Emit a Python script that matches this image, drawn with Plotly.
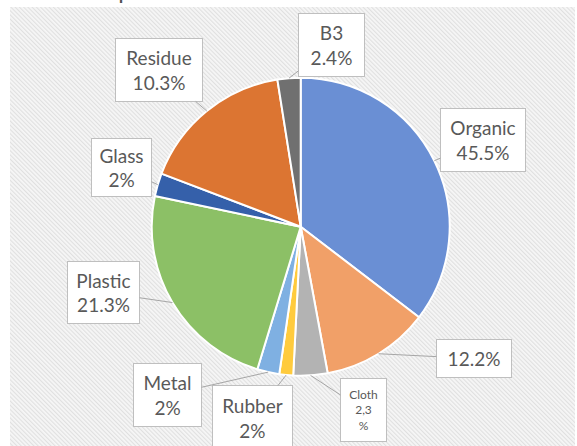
import base64
import numpy as np
import plotly.graph_objects as go

# slices clockwise from 12 o'clock
names   = ["Organic", "(unlabelled)", "Cloth", "Rubber", "Metal", "Plastic", "Glass", "Residue", "B3"]
# slice sizes as drawn in the picture (share of the circle, %)
shares  = [35.4, 11.7, 3.7, 1.5, 2.4, 23.6, 2.5, 16.7, 2.5]
# printed callout texts
label_text = ["Organic<br>45.5%", "12.2%", "Cloth<br>2,3<br>%", "Rubber<br>2%", "Metal<br>2%",
              "Plastic<br>21.3%", "Glass<br>2%", "Residue<br>10.3%", "B3<br>2.4%"]
colors  = ["#6a8fd4", "#f1a068", "#b3b3b3", "#ffcb3d", "#7fb0e2",
           "#8cc066", "#3560aa", "#dc7532", "#707070"]

W, H = 577, 446
CX, CY, R = 300.7, 226.7, 149

# callout boxes: centre x, centre y, width, height (pixels)
boxes = [
    (483, 140, 86, 64),
    (474, 358.5, 76, 39),
    (363.5, 410, 47, 64),
    (252.5, 418, 81, 66),
    (167.5, 395, 69, 64),
    (103.5, 292.5, 73, 63),
    (121.5, 167.5, 61, 59),
    (159, 70, 88, 64),
    (331.5, 45, 67, 64),
]

fig = go.Figure()

fig.add_trace(go.Pie(
    labels=names, values=shares, sort=False, direction="clockwise", rotation=0,
    marker=dict(colors=colors, line=dict(color="#ffffff", width=2)),
    textinfo="none", hoverinfo="label", showlegend=False,
    domain=dict(x=[(CX - R) / W, (CX + R) / W], y=[(H - CY - R) / H, (H - CY + R) / H]),
))

# ── callouts: arrow tip at the middle of each slice's rim ──────────────────
cum = np.cumsum([0] + shares)
tot = cum[-1]
for i, txt in enumerate(label_text):
    mid = np.deg2rad((cum[i] + cum[i + 1]) / 2 / tot * 360)
    tx = CX + R * np.sin(mid)
    ty = CY - R * np.cos(mid)
    bx, by, bw, bh = boxes[i]
    small = i == 2
    fig.add_annotation(
        x=tx / W, y=1 - ty / H, xref="paper", yref="paper",
        ax=bx - tx, ay=by - ty,
        text=txt, showarrow=True, arrowhead=0, arrowwidth=1, arrowcolor="#a6a6a6",
        width=bw - 2, height=bh - 2, borderpad=0, borderwidth=1,
        bordercolor="#bfbfbf", bgcolor="#ffffff", align="center", valign="middle",
        font=dict(family="Lato", size=12 if small else 19, color="#595959"),
    )

# title, mostly cut off at the top edge (as in the source image)
fig.add_annotation(
    x=239 / W, y=1 - 6 / H, xref="paper", yref="paper", xanchor="center", yanchor="bottom",
    text="Composition of Domestic Waste", showarrow=False,
    font=dict(family="Lato", size=24, color="#505050"),
)

# hatched chart-area background
svg = ("<svg xmlns='http://www.w3.org/2000/svg' width='565' height='439'>"
       "<defs><pattern id='h' width='3' height='3' patternUnits='userSpaceOnUse' "
       "patternTransform='rotate(-45)'><rect width='3' height='3' fill='#f6f6f6'/>"
       "<rect width='1.1' height='3' fill='#e0e0e0'/></pattern></defs>"
       "<rect width='100%' height='100%' fill='url(#h)'/></svg>")
src = "data:image/svg+xml;base64," + base64.b64encode(svg.encode()).decode()

fig.update_layout(
    width=W, height=H,
    margin=dict(l=0, r=0, t=0, b=0),
    paper_bgcolor="#ffffff",
    images=[dict(source=src, xref="paper", yref="paper", x=10 / W, y=1 - 7 / H,
                 sizex=565 / W, sizey=439 / H, sizing="stretch", layer="below",
                 xanchor="left", yanchor="top")],
)

fig.write_html("out.html", config={"displayModeBar": False},
               post_script="document.body.style.margin='0';")
